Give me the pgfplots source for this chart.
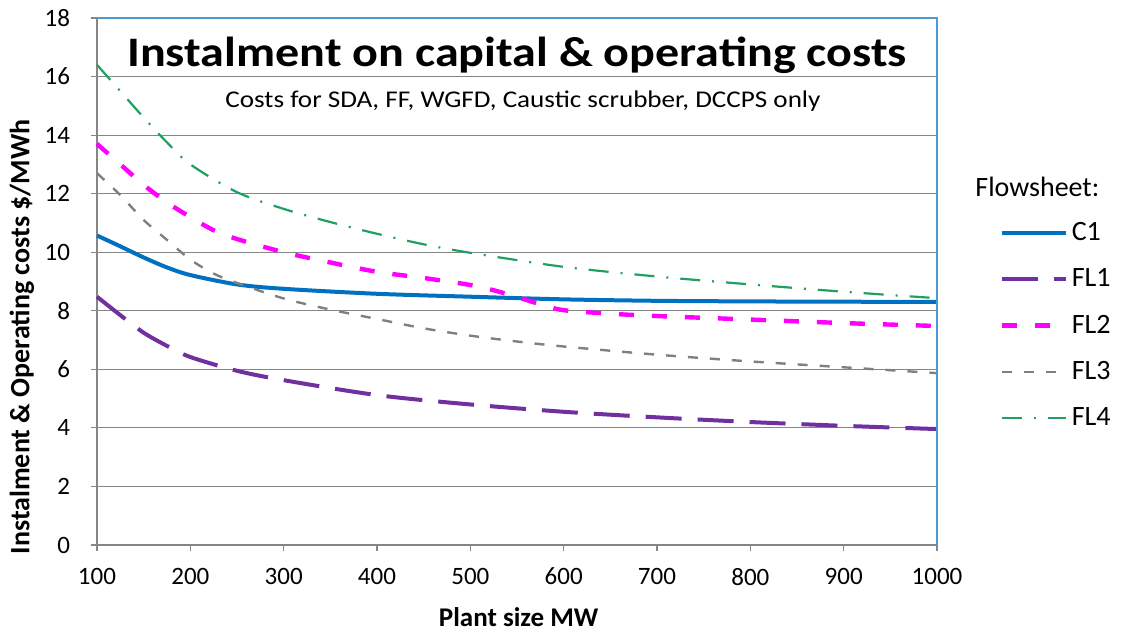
\documentclass[border=0pt]{standalone}
\usepackage{pgfplots}
\pgfplotsset{compat=1.18}
\usepackage{fontspec}
\setmainfont{Carlito}

\definecolor{cone}{HTML}{0070C0}
\definecolor{flone}{HTML}{7030A0}
\definecolor{fltwo}{HTML}{FF00FF}
\definecolor{flthree}{HTML}{808080}
\definecolor{flfour}{HTML}{1FA060}
\definecolor{edge}{HTML}{4A9BD0}
\definecolor{axgray}{HTML}{868686}

\begin{document}
\begin{tikzpicture}
\begin{axis}[
    name=ax,
    scale only axis,
    width=420pt, height=263.5pt,
    xmin=100, xmax=1000,
    ymin=0, ymax=18,
    xtick={100,200,...,1000},
    ytick={0,2,...,18},
    axis x line=bottom, axis y line=left,
    axis line style={axgray, line width=0.6pt, -},
    tick align=outside,
    tick style={axgray, line width=0.6pt},
    major tick length=3pt,
    ymajorgrids,
    grid style={axgray, line width=0.5pt},
    tick label style={font=\fontsize{12.5}{14}\selectfont},
    /pgf/number format/assume math mode=true,
    /pgf/number format/1000 sep={},
    xticklabel style={yshift=-5pt},
    yticklabel style={xshift=-7pt},
    clip=false,
    legend style={at={(1,1)}, anchor=north west, xshift=30pt, yshift=-99pt,
        draw=none, fill=none, font=\fontsize{14}{16}\selectfont,
        row sep=8.6pt, inner sep=1pt},
    legend cell align=left,
    legend image code/.code={\draw[#1] (0pt,0pt) -- (32pt,0pt);},
    every axis plot/.append style={smooth, tension=0.5},
]
% C1
\addplot[cone, line width=2pt] coordinates {
(100,10.57) (125,10.2) (150,9.82) (175,9.48) (200,9.22) (250,8.9) (300,8.75)
(400,8.58) (500,8.48) (600,8.39) (700,8.34) (800,8.32) (900,8.31) (1000,8.3)};
\addlegendentry{C1}
% FL1
\addplot[flone, line width=2pt, dash pattern=on 18pt off 8pt] coordinates {
(100,8.48) (125,7.85) (150,7.25) (175,6.8) (200,6.42) (250,5.95) (300,5.63)
(400,5.12) (500,4.8) (600,4.55) (700,4.36) (800,4.2) (900,4.07) (1000,3.96)};
\addlegendentry{FL1}
% FL2
\addplot[fltwo, line width=2.2pt, dash pattern=on 7.5pt off 9pt] coordinates {
(100,13.7) (125,13.0) (150,12.3) (175,11.7) (200,11.2) (225,10.75) (250,10.45)
(300,10.0) (350,9.65) (400,9.33) (450,9.12) (500,8.88) (525,8.7) (550,8.47)
(575,8.22) (600,8.02) (650,7.9) (700,7.82) (800,7.7) (900,7.58) (1000,7.48)};
\addlegendentry{FL2}
% FL3
\addplot[flthree, line width=1.2pt, dash pattern=on 5pt off 6pt] coordinates {
(100,12.7) (125,11.95) (150,11.1) (175,10.42) (200,9.75) (225,9.27) (250,8.95)
(300,8.42) (350,8.04) (400,7.72) (450,7.4) (500,7.15) (550,6.95) (600,6.78)
(700,6.5) (800,6.27) (900,6.07) (1000,5.87)};
\addlegendentry{FL3}
% FL4
\addplot[flfour, line width=1.1pt, dash pattern=on 10pt off 6pt on 1pt off 6pt] coordinates {
(100,16.4) (125,15.5) (150,14.6) (175,13.75) (200,13.0) (250,12.05) (300,11.48)
(350,11.03) (400,10.63) (450,10.27) (500,9.98) (600,9.5) (700,9.17) (800,8.9)
(900,8.65) (1000,8.43)};
\addlegendentry{FL4}

% plot area border (top and right)
\draw[edge, line width=0.7pt] (rel axis cs:0,1) -- (rel axis cs:1,1) -- (rel axis cs:1,0);

% titles
\node[anchor=base, xscale=1.145, font=\bfseries\fontsize{21}{24}\selectfont]
    at ([yshift=-24.5pt]rel axis cs:0.5,1) {Instalment on capital \& operating costs};
\node[anchor=base, xscale=1.13, font=\fontsize{12}{14}\selectfont]
    at ([yshift=-45pt,xshift=3pt]rel axis cs:0.5,1) {Costs for SDA, FF, WGFD, Caustic scrubber, DCCPS only};

% legend heading
\node[anchor=west, inner sep=0pt, font=\fontsize{14}{16}\selectfont]
    at ([xshift=19pt,yshift=-84.5pt]rel axis cs:1,1) {Flowsheet:};

% axis labels
\node[anchor=center, font=\bfseries\fontsize{13.5}{16}\selectfont]
    at ([yshift=-36pt]rel axis cs:0.502,0) {Plant size MW};
\node[anchor=center, rotate=90, font=\bfseries\fontsize{14}{16}\selectfont]
    at ([xshift=-37.5pt]rel axis cs:0,0.395) {Instalment \& Operating costs \$/MWh};
\end{axis}
\pgfresetboundingbox
\path[use as bounding box] ([shift={(-48.5pt,-45pt)}]ax.south west) rectangle ([shift={(94.5pt,9pt)}]ax.north east);
\end{tikzpicture}
\end{document}
